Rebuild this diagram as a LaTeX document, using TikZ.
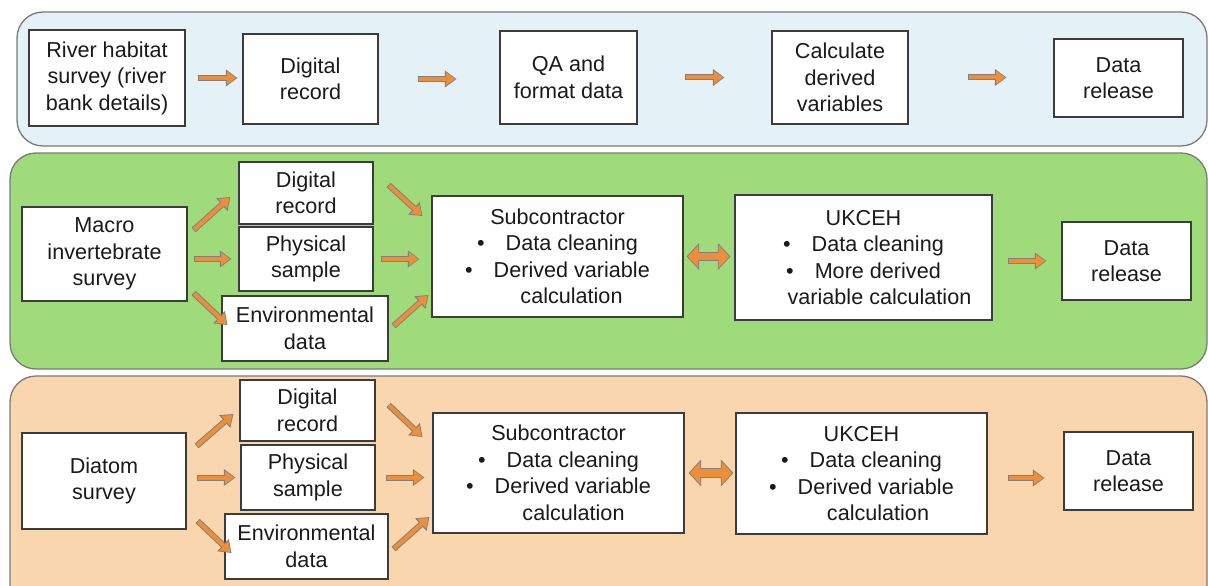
\documentclass[tikz,border=0pt]{standalone}
\usepackage{fontspec}
\setmainfont{Liberation Sans}
\usetikzlibrary{arrows.meta}
\definecolor{panelblue}{HTML}{E4F1F7}
\definecolor{panelgreen}{HTML}{9FDA7B}
\definecolor{panelpeach}{HTML}{F9D6AE}
\definecolor{panelline}{HTML}{7A7A7A}
\definecolor{boxline}{HTML}{3C3C3C}
\definecolor{arrorange}{HTML}{EE8E38}
\definecolor{arrgray}{HTML}{808080}
\definecolor{txt}{HTML}{1A1A1A}
\tikzset{
  panel/.style={draw=panelline, line width=1.3pt, rounded corners=26pt},
  box/.style={draw=boxline, fill=white, line width=1.2pt, inner sep=0pt, align=center,
    text=txt, font=\fontsize{21.6}{26.5}\selectfont,
    execute at begin node={\rule{0pt}{20pt}}},
  arr/.style={draw=arrorange, line width=4pt, shorten >=1.3pt, shorten <=0.9pt,
    -{Triangle[width=13pt,length=9pt,line width=0pt]},
    preaction={draw=arrgray, line width=6pt, shorten >=0pt, shorten <=0pt,
      -{Triangle[width=17pt,length=11.5pt,line width=0pt]}}},
  darr/.style={draw=arrorange, line width=7.5pt, shorten >=1.3pt, shorten <=1.3pt,
    {Triangle[width=23pt,length=10.5pt,line width=0pt]}-{Triangle[width=23pt,length=10.5pt,line width=0pt]},
    preaction={draw=arrgray, line width=9.5pt, shorten >=0pt, shorten <=0pt,
      {Triangle[width=27pt,length=12.5pt,line width=0pt]}-{Triangle[width=27pt,length=12.5pt,line width=0pt]}}}
}
\newcommand{\bl}{\textbullet\hspace{21pt}}
\begin{document}
\begin{tikzpicture}[x=1pt,y=-1pt]
\useasboundingbox (0,0) rectangle (1208,586);
\fill[white] (0,0) rectangle (1208,586);
% panels
\draw[panel, fill=panelblue] (17,12) rectangle (1207,146);
\draw[panel, fill=panelgreen] (10,153) rectangle (1207,369);
\draw[panel, fill=panelpeach] (10,376) rectangle (1207,620);

% top row
\node[box, minimum width=156pt, minimum height=96pt] (rhs) at (107,78) {River habitat\\survey (river\\bank details)};
\node[box, minimum width=135pt, minimum height=90pt] (dr1) at (310.5,79) {Digital\\record};
\node[box, minimum width=137pt, minimum height=93pt] (qa) at (568.5,77.5) {QA and\\format data};
\node[box, minimum width=136pt, minimum height=93pt] (calc) at (840,77.5) {Calculate\\derived\\variables};
\node[box, minimum width=129pt, minimum height=78pt] (rel1) at (1118.5,78) {Data\\release};

\draw[arr] ([xshift=12pt]rhs.east) -- ([xshift=-5pt]rhs.east -| dr1.west);
\draw[arr] ([xshift=39pt]dr1.east) -- ([xshift=-43pt]dr1.east -| qa.west);
\draw[arr] ([xshift=47pt]qa.east) -- ([xshift=-47pt]qa.east -| calc.west);
\draw[arr] ([xshift=59pt]calc.east) -- ([xshift=-47pt]calc.east -| rel1.west);

% middle row
\node[box, minimum width=165pt, minimum height=94pt] (mac) at (104.5,254) {Macro\\invertebrate\\survey};
\node[box, minimum width=134pt, minimum height=62pt] (dr2) at (306,193) {Digital\\record};
\node[box, minimum width=134pt, minimum height=64pt] (ps2) at (306,259) {Physical\\sample};
\node[box, minimum width=166pt, minimum height=65pt] (env2) at (305,328.5) {Environmental\\data};
\node[box, minimum width=251pt, minimum height=121pt] (sub2) at (557.5,256.5) {Subcontractor\\\bl Data cleaning\\\bl Derived variable\\\hspace{28pt}calculation};
\node[box, minimum width=257pt, minimum height=125pt] (uk2) at (863.5,257.5) {UKCEH\\\bl Data cleaning\\\bl More derived\\\hspace{32pt}variable calculation};
\node[box, minimum width=129pt, minimum height=78pt] (rel2) at (1126.5,261) {Data\\release};

\draw[arr] ([xshift=6pt,yshift=24pt]mac.east) -- ([xshift=-8pt,yshift=-4pt]dr2.west);
\draw[arr] ([xshift=6pt]mac.east |- ps2.west) -- ([xshift=-7pt]ps2.west);
\draw[arr] ([xshift=6pt,yshift=-39pt]mac.east) -- ([xshift=6pt,yshift=3.5pt]env2.west);
\draw[arr] ([xshift=15pt,yshift=8pt]dr2.east) -- ([xshift=-9pt,yshift=40.5pt]sub2.west);
\draw[arr] ([xshift=7pt]ps2.east) -- ([xshift=-12pt]ps2.east -| sub2.west);
\draw[arr] ([xshift=5pt,yshift=2.5pt]env2.east) -- ([xshift=-3pt,yshift=-38.5pt]sub2.west);
\draw[darr] ([xshift=3pt]sub2.east) -- ([xshift=-4pt]sub2.east -| uk2.west);
\draw[arr] ([xshift=15pt]rel2.west -| uk2.east) -- ([xshift=-15pt]rel2.west);

% bottom row
\node[box, minimum width=164pt, minimum height=96pt] (dia) at (104,481) {Diatom\\survey};
\node[box, minimum width=135pt, minimum height=61pt] (dr3) at (307.5,410.5) {Digital\\record};
\node[box, minimum width=134pt, minimum height=65pt] (ps3) at (308,477.5) {Physical\\sample};
\node[box, minimum width=163pt, minimum height=65pt] (env3) at (306.5,546.5) {Environmental\\data};
\node[box, minimum width=251pt, minimum height=120pt] (sub3) at (558.5,473) {Subcontractor\\\bl Data cleaning\\\bl Derived variable\\\hspace{30pt}calculation};
\node[box, minimum width=251pt, minimum height=121pt] (uk3) at (861.5,473.5) {UKCEH\\\bl Data cleaning\\\bl Derived variable\\\hspace{33pt}calculation};
\node[box, minimum width=129pt, minimum height=78pt] (rel3) at (1128.5,471) {Data\\release};

\draw[arr] ([xshift=10pt,yshift=35pt]dia.east) -- ([xshift=-6pt,yshift=-3.5pt]dr3.west);
\draw[arr] ([xshift=10pt]dia.east |- ps3.west) -- ([xshift=-5pt]ps3.west);
\draw[arr] ([xshift=11pt,yshift=-40pt]dia.east) -- ([xshift=7pt,yshift=-6.5pt]env3.west);
\draw[arr] ([xshift=13pt,yshift=5.5pt]dr3.east) -- ([xshift=-10pt,yshift=36pt]sub3.west);
\draw[arr] ([xshift=10pt]ps3.east) -- ([xshift=-8pt]ps3.east -| sub3.west);
\draw[arr] ([xshift=5pt,yshift=-2.5pt]env3.east) -- ([xshift=-3pt,yshift=-44pt]sub3.west);
\draw[darr] ([xshift=4pt]sub3.east) -- ([xshift=-2pt]sub3.east -| uk3.west);
\draw[arr] ([xshift=20pt,yshift=-4.5pt]uk3.east) -- ([xshift=-19pt,yshift=-4.5pt]uk3.east -| rel3.west);
\end{tikzpicture}
\end{document}
